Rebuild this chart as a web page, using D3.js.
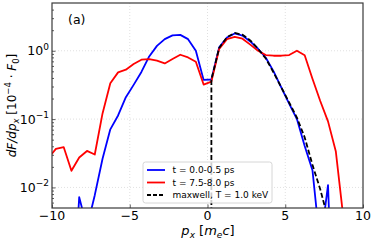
<!DOCTYPE html>
<html>
<head>
<meta charset="utf-8">
<script src="https://cdn.jsdelivr.net/npm/d3@7"></script>
<style>
  body { margin: 0; background: #fff; }
  svg { font-family: "DejaVu Sans", sans-serif; }
</style>
</head>
<body>
<svg id="chart" width="374" height="240"></svg>
<script>
// bin centres (p_x in m_e c)
var pxBins = [-10.25, -9.75, -9.25, -8.75, -8.25, -7.75, -7.25, -6.75, -6.25, -5.75,
  -5.25, -4.75, -4.25, -3.75, -3.25, -2.75, -2.25, -1.75, -1.25, -0.75,
  -0.25, 0.25, 0.75, 1.25, 1.75, 2.25, 2.75, 3.25, 3.75, 4.25,
  4.75, 5.25, 5.75, 6.25, 6.75, 7.25, 7.75, 8.25, 8.75, 9.25, 9.75];

// t = 0.0-0.5 ps
var early = [1e-5, 1e-5, 1e-5, 1e-4, 0.0072, 0.0026, 0.0077, 0.0263, 0.0708, 0.113,
  0.209, 0.317, 0.49, 0.826, 1.18, 1.48, 1.68, 1.71, 1.48, 1.0,
  0.375, 0.38, 1.12, 1.56, 1.79, 1.67, 1.37, 1.07, 0.79, 0.50,
  0.289, 0.168, 0.10, 0.0405, 0.0179, 0.0014, 0.0108, 1e-5, 1e-5, 1e-5, 1e-5];

// t = 7.5-8.0 ps
var late = [0.0265, 0.0367, 0.039, 0.0175, 0.0274, 0.0342, 0.0303, 0.121, 0.334, 0.483,
  0.529, 0.640, 0.740, 0.757, 0.715, 0.653, 0.757, 0.875, 0.799, 0.692,
  0.320, 0.354, 1.06, 1.48, 1.6, 1.5, 1.23, 1.0, 0.866, 0.846,
  0.846, 0.866, 1.0, 0.86, 0.39, 0.184, 0.0926, 0.0339, 0.0034, 0.0005, 0.0001];

// maxwell, T = 1.0 keV (only p_x > 0)
var maxX = [0.25, 0.25, 0.75, 1.25, 1.75, 2.25, 2.75, 3.25, 3.75, 4.25,
  4.75, 5.25, 5.75, 6.25, 6.75, 7.25, 7.75, 8.25];
var maxY = [1e-5, 0.38, 1.10, 1.58, 1.82, 1.72, 1.42, 1.07, 0.77, 0.48,
  0.29, 0.175, 0.105, 0.054, 0.0214, 0.0094, 0.0035, 0.001];

var xTicks = [-10, -5, 0, 5, 10];
var yTicks = [0.01, 0.1, 1];
var yExp = ['\u22122', '\u22121', '0'];

var pLeft = 52, pTop = 3, pRight = 363, pBottom = 208;

var svg = d3.select('#chart');

var x = d3.scaleLinear().domain([-10, 10]).range([pLeft, pRight]);
var y = d3.scaleLog().domain([0.005, 5]).range([pBottom, pTop]);

svg.append('defs').append('clipPath').attr('id', 'plotclip')
  .append('rect')
  .attr('x', pLeft).attr('y', pTop)
  .attr('width', pRight - pLeft).attr('height', pBottom - pTop);

// grid
var grid = svg.append('g').attr('stroke', '#d8d8d8').attr('stroke-width', 0.8)
  .attr('stroke-dasharray', '1,2');
grid.selectAll('.gx').data(xTicks.slice(1, -1)).enter().append('line')
  .attr('x1', d => x(d)).attr('x2', d => x(d))
  .attr('y1', pTop).attr('y2', pBottom);
grid.selectAll('.gy').data(yTicks).enter().append('line')
  .attr('x1', pLeft).attr('x2', pRight)
  .attr('y1', d => y(d)).attr('y2', d => y(d));

// curves
var line = d3.line().x(d => x(d[0])).y(d => y(d[1]));
var plot = svg.append('g').attr('clip-path', 'url(#plotclip)').attr('fill', 'none')
  .attr('stroke-linejoin', 'round');

plot.append('path')
  .attr('d', line(d3.zip(pxBins, early)))
  .attr('stroke', '#0000ff').attr('stroke-width', 1.8);
plot.append('path')
  .attr('d', line(d3.zip(pxBins, late)))
  .attr('stroke', '#ff0000').attr('stroke-width', 1.8);
plot.append('path')
  .attr('d', line(d3.zip(maxX, maxY)))
  .attr('stroke', '#000').attr('stroke-width', 1.8)
  .attr('stroke-dasharray', '5,2.5');

// axes (ticks inside)
var xAxis = d3.axisBottom(x).tickValues(xTicks).tickSize(-3.5).tickFormat('');
svg.append('g').attr('transform', 'translate(0,' + pBottom + ')').call(xAxis)
  .call(g => g.select('.domain').remove());

var minor = [];
[0.001, 0.01, 0.1, 1].forEach(function (p) {
  for (var k = 2; k <= 9; k++) {
    var v = k * p;
    if (v > 0.005 && v < 5) minor.push(v);
  }
});
var yAxis = d3.axisLeft(y).tickValues(yTicks).tickSize(-3.5).tickFormat('');
svg.append('g').attr('transform', 'translate(' + pLeft + ',0)').call(yAxis)
  .call(g => g.select('.domain').remove());
var yMinor = d3.axisLeft(y).tickValues(minor).tickSize(-2).tickFormat('');
svg.append('g').attr('transform', 'translate(' + pLeft + ',0)').call(yMinor)
  .call(g => g.select('.domain').remove());

svg.selectAll('.tick line').attr('stroke', '#333').attr('stroke-width', 0.8);

// frame
svg.append('rect')
  .attr('x', pLeft).attr('y', pTop)
  .attr('width', pRight - pLeft).attr('height', pBottom - pTop)
  .attr('fill', 'none').attr('stroke', '#3a3a3a').attr('stroke-width', 1.2);

// tick labels
svg.append('g').selectAll('text').data(xTicks).enter().append('text')
  .attr('x', d => x(d)).attr('y', 220)
  .attr('text-anchor', 'middle').attr('font-size', 12.5).attr('fill', '#000')
  .text(d => d < 0 ? '\u2212' + Math.abs(d) : d);

var yl = svg.append('g').selectAll('text').data(yTicks).enter().append('text')
  .attr('x', 49).attr('y', d => y(d) + 4.5)
  .attr('text-anchor', 'end').attr('font-size', 12.5).attr('fill', '#000');
yl.append('tspan').text('10');
yl.append('tspan').attr('dy', -5.5).attr('font-size', 9).text((d, i) => yExp[i]);

// panel tag
svg.append('text').attr('x', 68).attr('y', 24).attr('font-size', 12.5).text('(a)');

// x label
var xl = svg.append('text').attr('x', (pLeft + pRight) / 2 + 0.5).attr('y', 235)
  .attr('text-anchor', 'middle').attr('font-size', 13);
xl.append('tspan').attr('font-style', 'italic').text('p');
xl.append('tspan').attr('font-style', 'italic').attr('font-size', 9).attr('dy', 2.5).text('x');
xl.append('tspan').attr('dy', -2.5).text(' [');
xl.append('tspan').attr('font-style', 'italic').text('m');
xl.append('tspan').attr('font-style', 'italic').attr('font-size', 9).attr('dy', 2.5).text('e');
xl.append('tspan').attr('font-style', 'italic').attr('dy', -2.5).text('c');
xl.append('tspan').text(']');

// y label
var ylab = svg.append('text')
  .attr('transform', 'translate(16,' + ((pTop + pBottom) / 2) + ') rotate(-90)')
  .attr('text-anchor', 'middle').attr('font-size', 12);
ylab.append('tspan').attr('font-style', 'italic').text('dF/dp');
ylab.append('tspan').attr('font-style', 'italic').attr('font-size', 8.5).attr('dy', 2.5).text('x');
ylab.append('tspan').attr('dy', -2.5).text(' [10');
ylab.append('tspan').attr('font-size', 8.5).attr('dy', -5).text('\u22124');
ylab.append('tspan').attr('dy', 5).text(' \u00b7 ');
ylab.append('tspan').attr('font-style', 'italic').text('F');
ylab.append('tspan').attr('font-size', 8.5).attr('dy', 2.5).text('0');
ylab.append('tspan').attr('dy', -2.5).text(']');

// legend
var legItems = [
  { label: 't = 0.0-0.5 ps', color: '#0000ff', dash: null },
  { label: 't = 7.5-8.0 ps', color: '#ff0000', dash: null },
  { label: 'maxwell, T = 1.0 keV', color: '#000', dash: '4,2' }
];
var leg = svg.append('g').attr('transform', 'translate(143,162)');
leg.append('rect').attr('width', 129).attr('height', 41).attr('rx', 2.5)
  .attr('fill', '#fff').attr('fill-opacity', 0.8)
  .attr('stroke', '#cccccc').attr('stroke-width', 0.8);
var row = leg.selectAll('.row').data(legItems).enter().append('g')
  .attr('transform', (d, i) => 'translate(0,' + (8 + i * 12.5) + ')');
row.append('line').attr('x1', 4).attr('x2', 22).attr('y1', 0).attr('y2', 0)
  .attr('stroke', d => d.color).attr('stroke-width', 1.8)
  .attr('stroke-dasharray', d => d.dash);
row.append('text').attr('x', 29.5).attr('y', 3.3).attr('font-size', 9)
  .text(d => d.label);
</script>
</body>
</html>
